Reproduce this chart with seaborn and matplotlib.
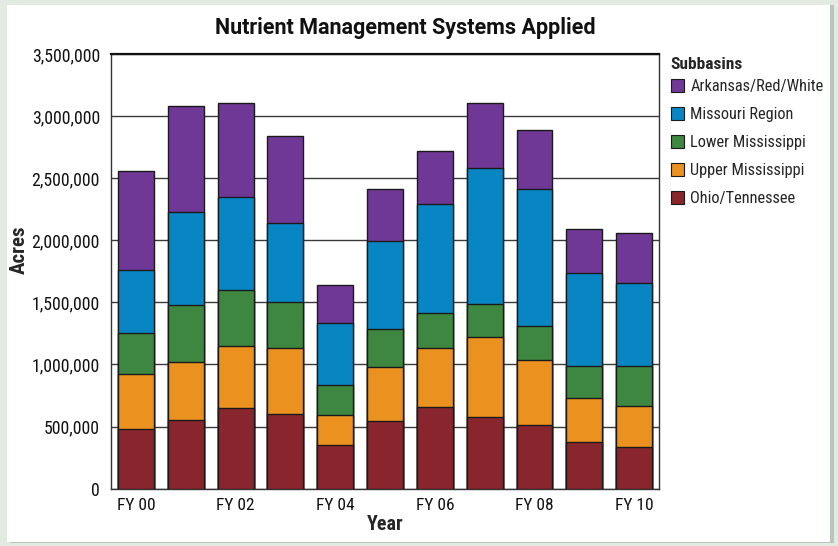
import matplotlib
matplotlib.use("Agg")
import matplotlib.pyplot as plt
from matplotlib.patches import Rectangle, Patch
from matplotlib.ticker import FuncFormatter, FixedLocator
from matplotlib import font_manager
import numpy as np
import pandas as pd
import seaborn as sns

# Fiscal years and acres per subbasin (stacked bottom to top)
years = ["FY 00", "FY 01", "FY 02", "FY 03", "FY 04", "FY 05",
         "FY 06", "FY 07", "FY 08", "FY 09", "FY 10"]
year_labels = ["FY 00", "", "FY 02", "", "FY 04", "", "FY 06", "", "FY 08", "", "FY 10"]

ohio_tennessee = [481000, 551000, 651000, 605000, 352000, 543000,
                  661000, 581000, 511000, 379000, 339000]
upper_mississippi = [446000, 473000, 500000, 527000, 242000, 433000,
                     474000, 637000, 527000, 355000, 326000]
lower_mississippi = [326000, 455000, 449000, 374000, 242000, 312000,
                     276000, 266000, 274000, 253000, 319000]
missouri_region = [505000, 750000, 752000, 631000, 498000, 710000,
                   885000, 1100000, 1102000, 747000, 672000]
arkansas_red_white = [798000, 852000, 756000, 702000, 306000, 419000,
                      422000, 521000, 473000, 358000, 400000]

series_names = ["Ohio/Tennessee", "Upper Mississippi", "Lower Mississippi",
                "Missouri Region", "Arkansas/Red/White"]
series_values = [ohio_tennessee, upper_mississippi, lower_mississippi,
                 missouri_region, arkansas_red_white]
series_colors = ["#89262d", "#ea9120", "#3d8740", "#0886c4", "#703896"]

sns.set_theme(style="white")
# prefer a narrow face for the labels
installed = {f.name for f in font_manager.fontManager.ttflist}
narrow = [n for n in ["Roboto Condensed", "Liberation Sans Narrow", "DejaVu Sans"]
          if n in installed]
plt.rcParams["font.family"] = narrow
plt.rcParams["font.stretch"] = "condensed"
title_family = [n for n in ["Roboto", "DejaVu Sans"] if n in installed]

fig = plt.figure(figsize=(8.38, 5.46), dpi=100, facecolor="#e3eae2")
# card background with a soft shadow on the right
fig.patches.append(Rectangle((0.012, 0.005), 0.983, 0.985, transform=fig.transFigure,
                             facecolor="#b8c6b7", edgecolor="none", zorder=-3))
fig.patches.append(Rectangle((0.008, 0.008), 0.983, 0.983, transform=fig.transFigure,
                             facecolor="white", edgecolor="none", zorder=-2))

ax = fig.add_axes([0.1325, 0.105, 0.654, 0.796])
ax.set_facecolor("none")

# cumulative totals; draw tallest layer first so lower layers sit on top
df = pd.DataFrame({"year": years})
running = np.zeros(len(years))
for name, vals in zip(series_names, series_values):
    running = running + np.array(vals)
    df[name] = running

for name, color in reversed(list(zip(series_names, series_colors))):
    sns.barplot(data=df, x="year", y=name, order=years, color=color,
                saturation=1, width=0.72, edgecolor="#1a1a1a", linewidth=1.0,
                ax=ax, zorder=3)

ax.set_xlim(-0.5, len(years) - 0.5)
ax.set_ylim(0, 3500000)
ax.yaxis.set_major_locator(FixedLocator(np.arange(0, 3500001, 500000)))
ax.yaxis.set_major_formatter(FuncFormatter(lambda v, p: f"{int(v):,}"))
ax.grid(axis="y", color="#3a3a3a", linewidth=1.0, zorder=0)
ax.set_axisbelow(True)

ax.set_xticks(range(len(years)))
ax.set_xticklabels(year_labels, fontsize=12.5)
ax.set_xticks(np.arange(-0.5, len(years), 1.0), minor=True)
ax.tick_params(axis="x", which="major", length=0, pad=7, colors="#111111")
ax.tick_params(axis="x", which="minor", length=9, width=1.0, color="#333333", direction="out")
ax.tick_params(axis="y", which="major", length=6, width=1.0, color="#333333",
               direction="out", labelsize=12.8, pad=2, labelcolor="#111111")

for side in ["left", "bottom", "top", "right"]:
    ax.spines[side].set_visible(True)
    ax.spines[side].set_color("#333333")
    ax.spines[side].set_linewidth(1.0)
ax.spines["top"].set_linewidth(1.6)
ax.spines["top"].set_color("#111111")

ax.set_xlabel("Year", fontsize=14.5, fontweight="bold", labelpad=1)
ax.set_ylabel("Acres", fontsize=15, fontweight="bold")
ax.yaxis.set_label_coords(-0.15, 0.55)
fig.text(0.484, 0.948, "Nutrient Management Systems Applied", ha="center", va="center",
         fontsize=15.5, fontweight="bold", color="#111111", family=title_family)

handles = [Patch(facecolor=c, edgecolor="#1a1a1a", linewidth=0.8)
           for c in reversed(series_colors)]
leg = ax.legend(handles, list(reversed(series_names)), title="Subbasins",
                loc="upper left", bbox_to_anchor=(1.0, 1.02), frameon=False,
                fontsize=11.8, title_fontsize=12.5, handlelength=0.85, handleheight=0.85,
                handletextpad=0.35, labelspacing=0.78, borderaxespad=0.3)
leg.get_title().set_fontweight("bold")
leg._legend_box.align = "left"
leg._legend_box.sep = 5

fig.savefig("out.png", dpi=100, facecolor=fig.get_facecolor())
